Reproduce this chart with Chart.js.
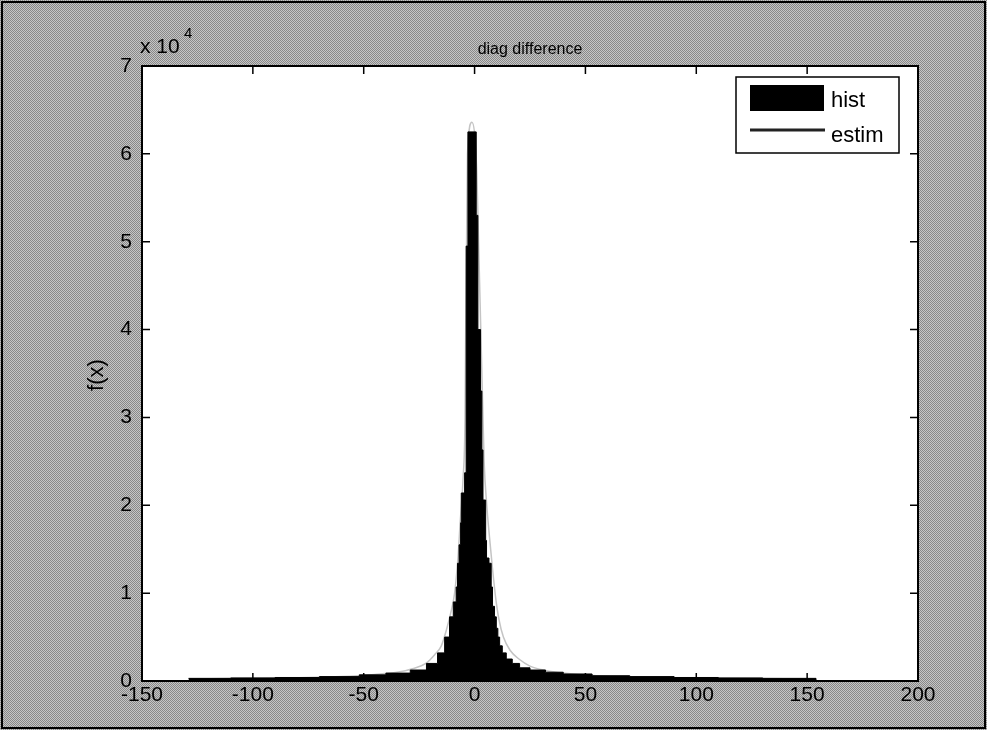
<!DOCTYPE html>
<html><head><meta charset="utf-8">
<script src="https://cdn.jsdelivr.net/npm/chart.js@4/dist/chart.umd.min.js"></script>
<style>html,body{margin:0;padding:0;background:#a8a8a8;}#wrap{width:987px;height:730px;}</style>
</head><body><div id="wrap"><canvas id="c" width="987" height="730"></canvas></div>
<script>
const titleText = 'diag difference';
const yAxisLabel = 'f(x)';
const xTicks = [-150, -100, -50, 0, 50, 100, 150, 200];
const yTicks = [0, 1, 2, 3, 4, 5, 6, 7];   // in units of 10^4
const yExponent = '4';
const seriesNames = ['hist', 'estim'];

// histogram: left edge of each step and the count held until the next edge
const histEdges = [-129, -110, -90, -70, -52, -40, -29, -21.7, -16.7, -13.5, -11.3, -9.6, -8.3, -7.7, -7.0, -6.3, -6.0, -4.5, -3.8, -3.0,
  0.75, 1.5, 2.7, 3.3, 3.8, 5.0, 5.4, 6.5, 7.5, 8.1, 9.0, 9.8, 10.5, 11.3, 12.5, 14.3, 17, 20.3, 25, 32, 40, 53, 70, 90, 110, 130, 154];
const histCounts = [300, 350, 400, 500, 700, 900, 1250, 2000, 3200, 5000, 7300, 9000, 10700, 13400, 15500, 18000, 21400, 23700, 49500, 62500,
  53000, 40000, 33000, 26300, 20600, 16000, 14000, 13400, 10700, 8500, 7300, 6000, 5000, 4000, 3200, 2500, 2000, 1500, 1250, 1000, 800, 600, 500, 400, 350, 300, 0];

// estimated density curve
const estimX = [-129, -100, -80, -60, -45, -35, -28, -22, -18, -15, -12.5, -10.5, -9, -7.5, -6.5, -5.2, -4.3, -4.0, -3.6, -3.2, -1.2,
  1.0, 1.8, 2.8, 3.6, 4.3, 5.5, 6.5, 8.0, 9.5, 11, 13, 16, 20, 25, 32, 40, 55, 80, 110, 154];
const estimY = [250, 300, 380, 500, 750, 1000, 1400, 2000, 3000, 4000, 6000, 8000, 10000, 14000, 18000, 23000, 30000, 40000, 50000, 60000, 63600,
  58000, 50000, 40000, 32000, 25000, 20000, 17000, 13000, 9500, 7000, 5000, 3500, 2500, 1700, 1200, 900, 600, 400, 300, 250];

const FONT = 'Liberation Sans, Arial, Helvetica, sans-serif';

function ditherPattern(ctx) {
  const c = document.createElement('canvas');
  c.width = 2; c.height = 2;
  const g = c.getContext('2d');
  g.fillStyle = '#c6c6c6'; g.fillRect(0, 0, 2, 2);
  g.fillStyle = '#888888'; g.fillRect(0, 0, 1, 1); g.fillRect(1, 1, 1, 1);
  return ctx.createPattern(c, 'repeat');
}

const decor = {
  id: 'decor',
  beforeDraw(chart) {
    const ctx = chart.ctx, a = chart.chartArea;
    ctx.save();
    ctx.fillStyle = ditherPattern(ctx);
    ctx.fillRect(0, 0, chart.width, chart.height);
    ctx.fillStyle = '#ffffff';
    ctx.fillRect(a.left, a.top, a.right - a.left, a.bottom - a.top);
    ctx.restore();
  },
  afterDraw(chart) {
    const ctx = chart.ctx, a = chart.chartArea;
    const xs = chart.scales.x, ys = chart.scales.y;
    ctx.save();
    // axes box
    ctx.strokeStyle = '#000'; ctx.lineWidth = 2;
    ctx.strokeRect(a.left, a.top, a.right - a.left, a.bottom - a.top);
    // inward ticks
    ctx.lineWidth = 1.5;
    const tl = 8;
    xTicks.forEach(v => {
      const px = xs.getPixelForValue(v);
      ctx.beginPath();
      ctx.moveTo(px, a.bottom); ctx.lineTo(px, a.bottom - tl);
      ctx.moveTo(px, a.top); ctx.lineTo(px, a.top + tl);
      ctx.stroke();
    });
    yTicks.forEach(v => {
      const py = ys.getPixelForValue(v * 1e4);
      ctx.beginPath();
      ctx.moveTo(a.left, py); ctx.lineTo(a.left + tl, py);
      ctx.moveTo(a.right, py); ctx.lineTo(a.right - tl, py);
      ctx.stroke();
    });
    // title
    ctx.fillStyle = '#000';
    ctx.font = '16px ' + FONT;
    ctx.textAlign = 'center'; ctx.textBaseline = 'alphabetic';
    ctx.fillText(titleText, (a.left + a.right) / 2, 54);
    // exponent label
    ctx.font = '21px ' + FONT;
    ctx.textAlign = 'left';
    ctx.fillText('x 10', 140, 53);
    ctx.font = '15px ' + FONT;
    ctx.fillText(yExponent, 184, 38);
    // y label
    ctx.font = '22px ' + FONT;
    ctx.translate(97, 375);
    ctx.rotate(-Math.PI / 2);
    ctx.textAlign = 'center'; ctx.textBaseline = 'middle';
    ctx.fillText(yAxisLabel, 0, 0);
    ctx.setTransform(1, 0, 0, 1, 0, 0);
    // legend
    const lx = 736, ly = 77, lw = 163, lh = 76;
    ctx.fillStyle = '#fff';
    ctx.fillRect(lx, ly, lw, lh);
    ctx.strokeStyle = '#000'; ctx.lineWidth = 1.5;
    ctx.strokeRect(lx, ly, lw, lh);
    ctx.fillStyle = '#000';
    ctx.fillRect(750, 85, 74, 26);
    ctx.strokeStyle = '#222'; ctx.lineWidth = 3;
    ctx.beginPath(); ctx.moveTo(750, 130); ctx.lineTo(825, 130); ctx.stroke();
    ctx.fillStyle = '#000';
    ctx.font = '22px ' + FONT;
    ctx.textAlign = 'left'; ctx.textBaseline = 'alphabetic';
    ctx.fillText(chart.data.datasets[0].label, 831, 107);
    ctx.fillText(chart.data.datasets[1].label, 831, 142);
    // frame
    ctx.strokeStyle = '#000'; ctx.lineWidth = 2;
    ctx.strokeRect(2, 2, chart.width - 4, chart.height - 4);
    ctx.restore();
  }
};

new Chart(document.getElementById('c'), {
  type: 'line',
  data: {
    datasets: [
      {
        label: seriesNames[0],
        data: histEdges.map((x, i) => ({ x: x, y: histCounts[i] })),
        stepped: 'before',
        fill: 'origin',
        backgroundColor: '#000',
        borderColor: '#000',
        borderWidth: 1,
        pointRadius: 0,
        order: 1
      },
      {
        label: seriesNames[1],
        data: estimX.map((x, i) => ({ x: x, y: estimY[i] })),
        cubicInterpolationMode: 'monotone',
        fill: false,
        borderColor: '#c4c4c4',
        borderWidth: 1.5,
        pointRadius: 0,
        order: 2
      }
    ]
  },
  options: {
    responsive: false,
    animation: false,
    layout: { padding: { left: 0, right: 69, top: 66, bottom: 0 } },
    plugins: { legend: { display: false }, tooltip: { enabled: false }, title: { display: false } },
    scales: {
      x: {
        type: 'linear', min: -150, max: 200,
        afterBuildTicks: s => { s.ticks = xTicks.map(v => ({ value: v })); },
        afterFit: s => { s.height = 49; },
        grid: { drawOnChartArea: false, drawTicks: false },
        border: { display: false },
        ticks: { color: '#000', font: { family: FONT, size: 21 }, padding: 2, maxRotation: 0, autoSkip: false }
      },
      y: {
        type: 'linear', min: 0, max: 70000,
        afterBuildTicks: s => { s.ticks = yTicks.map(v => ({ value: v * 1e4 })); },
        afterFit: s => { s.width = 142; },
        grid: { drawOnChartArea: false, drawTicks: false },
        border: { display: false },
        ticks: { color: '#000', font: { family: FONT, size: 21 }, padding: 10, callback: v => String(v / 1e4) }
      }
    }
  },
  plugins: [decor]
});
</script>
</body></html>
